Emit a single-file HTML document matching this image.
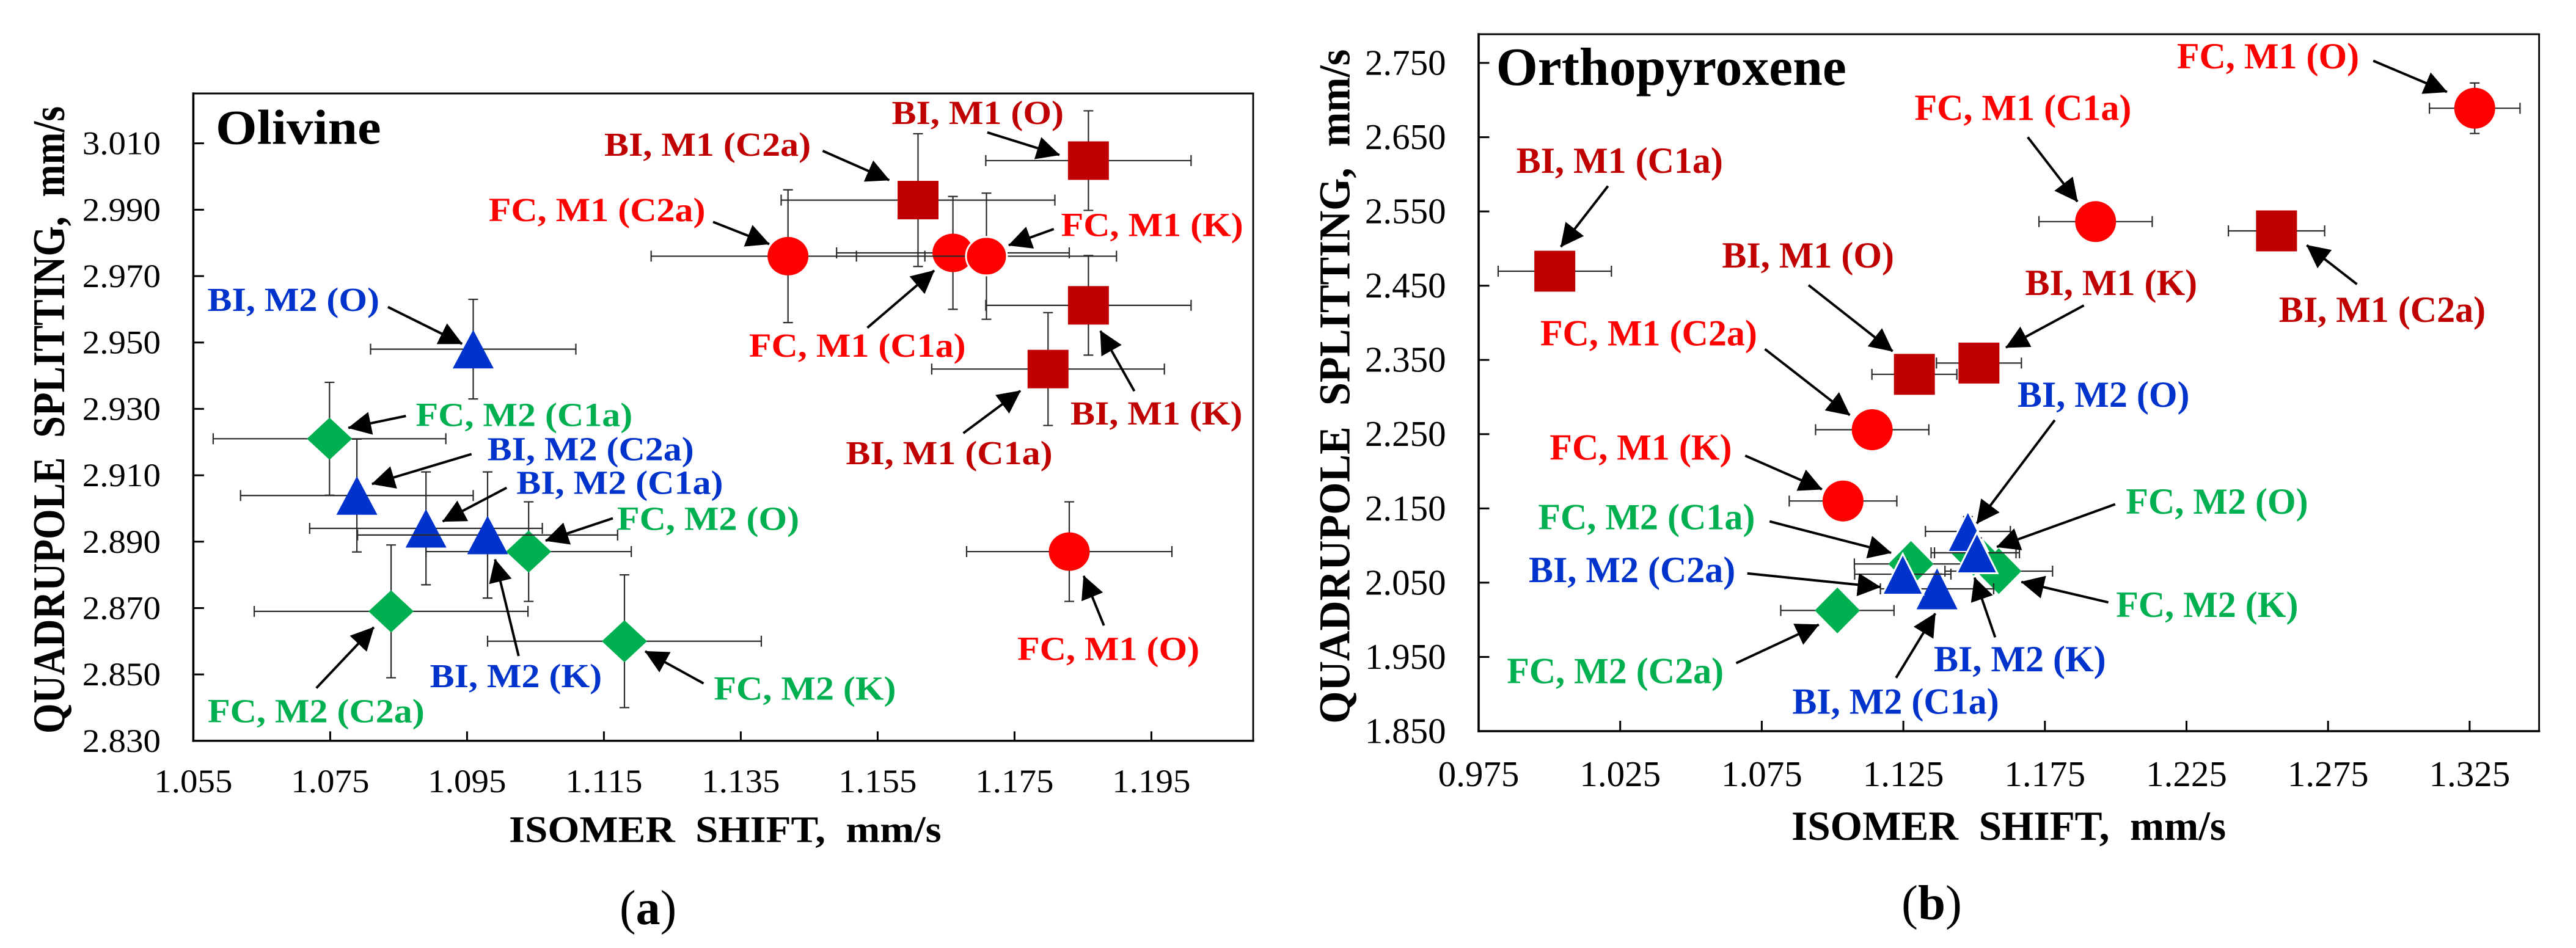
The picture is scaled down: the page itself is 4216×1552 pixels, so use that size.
<!DOCTYPE html>
<html lang="en">
<head>
<meta charset="utf-8">
<title>Isomer shift versus quadrupole splitting: olivine and orthopyroxene</title>
<style>
html,body{margin:0;padding:0;background:#fff;}
svg{display:block;}
text{font-family:"Liberation Serif","Times New Roman",serif;}
.lbl{font-weight:bold;font-size:60px;}
.r{fill:#FF0000;}.d{fill:#C00000;}.b{fill:#0033CC;}.g{fill:#00B050;}
.arrow line{stroke:#000;stroke-width:4;marker-end:url(#arrowhead);}
.ttl{font-weight:bold;fill:#000;}
</style>
</head>
<body>
<svg xmlns="http://www.w3.org/2000/svg" width="4216" height="1552" viewBox="0 0 4216 1552">
<defs>
<marker id="arrowhead" markerUnits="userSpaceOnUse" markerWidth="38" markerHeight="38" refX="37" refY="19" orient="auto">
<path d="M0 0L38 19L0 38Z" fill="#000"/>
</marker>
</defs>
<rect x="0" y="0" width="4216" height="1552" fill="#fff"/>

<g id="olivine-plot"></g>
<g id="ortho-plot"></g>

<!-- Panel (a) text -->
<g>
<text class="ttl" font-size="87" transform="translate(353 235.7) scale(1 .92)">Olivine</text>
<text class="ttl" font-size="74" transform="translate(105 1201) rotate(-90) scale(.86 1)">QUADRUPOLE&#160;&#160;SPLITTING,&#160;&#160;mm/s</text>
<text class="ttl" font-size="67" transform="translate(833 1378.6) scale(1 .92)">ISOMER&#160;&#160;SHIFT,&#160;&#160;mm/s</text>
<text font-size="80" transform="translate(1014 1512.8)">(<tspan font-weight="bold">a</tspan>)</text>
<text class="lbl b" transform="translate(339.5 509) scale(1 .92)">BI, M2 (O)</text>
<text class="lbl g" transform="translate(680.5 697.4) scale(1 .92)">FC, M2 (C1a)</text>
<text class="lbl b" transform="translate(797.6 753.6) scale(1 .92)">BI, M2 (C2a)</text>
<text class="lbl b" transform="translate(845.3 808.7) scale(1 .92)">BI, M2 (C1a)</text>
<text class="lbl g" transform="translate(1010 867.3) scale(1 .92)">FC, M2 (O)</text>
<text class="lbl b" transform="translate(703.6 1125) scale(1 .92)">BI, M2 (K)</text>
<text class="lbl g" transform="translate(340 1182.7) scale(1 .92)">FC, M2 (C2a)</text>
<text class="lbl g" transform="translate(1168.4 1145.4) scale(1 .92)">FC, M2 (K)</text>
<text class="lbl r" transform="translate(1665 1080.6) scale(1 .92)">FC, M1 (O)</text>
<text class="lbl d" transform="translate(1459.5 203) scale(1 .92)">BI, M1 (O)</text>
<text class="lbl d" transform="translate(989 255) scale(1 .92)">BI, M1 (C2a)</text>
<text class="lbl r" transform="translate(799.7 362) scale(1 .92)">FC, M1 (C2a)</text>
<text class="lbl r" transform="translate(1736.6 386.7) scale(1 .92)">FC, M1 (K)</text>
<text class="lbl r" transform="translate(1225.9 584) scale(1 .92)">FC, M1 (C1a)</text>
<text class="lbl d" transform="translate(1752 695) scale(1 .92)">BI, M1 (K)</text>
<text class="lbl d" transform="translate(1384.4 760) scale(1 .92)">BI, M1 (C1a)</text>
</g>

<!-- Panel (a) callout arrows -->
<g class="arrow">
<line x1="634.9" y1="502.6" x2="756.2" y2="562.8"/>
<line x1="664.3" y1="681" x2="570.3" y2="700.5"/>
<line x1="771.7" y1="743.4" x2="608.9" y2="792.3"/>
<line x1="829.2" y1="798.5" x2="724.6" y2="853.6"/>
<line x1="1003" y1="848.5" x2="893" y2="885.2"/>
<line x1="848.8" y1="1074" x2="810.2" y2="915.8"/>
<line x1="517.7" y1="1126.5" x2="611.7" y2="1027"/>
<line x1="1151.5" y1="1118.9" x2="1056" y2="1066.3"/>
<line x1="1806.7" y1="1024" x2="1773.7" y2="942.9"/>
<line x1="1615.9" y1="216.8" x2="1733.8" y2="253.6"/>
<line x1="1346.5" y1="247" x2="1455.3" y2="294.9"/>
<line x1="1167" y1="363.3" x2="1258.9" y2="399.5"/>
<line x1="1724.7" y1="375" x2="1651" y2="401.5"/>
<line x1="1419.5" y1="536.7" x2="1529" y2="442.9"/>
<line x1="1856.5" y1="640.3" x2="1801" y2="541.8"/>
<line x1="1576.6" y1="709.2" x2="1670" y2="639.8"/>
</g>

<!-- Panel (b) text -->
<g>
<text class="ttl" font-size="87.7" x="2448.6" y="138.8">Orthopyroxene</text>
<text class="ttl" font-size="72" transform="translate(2208.7 1184.7) rotate(-90) scale(.95 1)">QUADRUPOLE&#160;&#160;SPLITTING,&#160;&#160;mm/s</text>
<text class="ttl" font-size="67.3" x="2932" y="1375">ISOMER&#160;&#160;SHIFT,&#160;&#160;mm/s</text>
<text font-size="81" x="3112" y="1505">(<tspan font-weight="bold">b</tspan>)</text>
<text class="lbl r" x="3562.9" y="112">FC, M1 (O)</text>
<text class="lbl r" x="3133.5" y="196.4">FC, M1 (C1a)</text>
<text class="lbl d" x="2481.6" y="283">BI, M1 (C1a)</text>
<text class="lbl d" x="2818.4" y="437.8">BI, M1 (O)</text>
<text class="lbl d" x="3314.5" y="483">BI, M1 (K)</text>
<text class="lbl d" x="3729.8" y="527">BI, M1 (C2a)</text>
<text class="lbl r" x="2520.9" y="565.3">FC, M1 (C2a)</text>
<text class="lbl r" x="2536.3" y="752.6">FC, M1 (K)</text>
<text class="lbl b" x="3301.9" y="665.8">BI, M2 (O)</text>
<text class="lbl g" x="3479.4" y="840.8">FC, M2 (O)</text>
<text class="lbl g" x="2517.4" y="866.3">FC, M2 (C1a)</text>
<text class="lbl b" x="2502" y="953">BI, M2 (C2a)</text>
<text class="lbl g" x="3463.2" y="1010.2">FC, M2 (K)</text>
<text class="lbl b" x="3165" y="1099">BI, M2 (K)</text>
<text class="lbl g" x="2466.2" y="1118.4">FC, M2 (C2a)</text>
<text class="lbl b" x="2933.4" y="1168.4">BI, M2 (C1a)</text>
</g>

<!-- Panel (b) callout arrows -->
<g class="arrow">
<line x1="2631.7" y1="304.6" x2="2554.6" y2="404"/>
<line x1="2960" y1="466.8" x2="3097.5" y2="575"/>
<line x1="2888.5" y1="571.4" x2="3027.4" y2="679.6"/>
<line x1="2856.2" y1="745.9" x2="2981.8" y2="801"/>
<line x1="3884.2" y1="99.5" x2="4004.8" y2="150.5"/>
<line x1="3318.7" y1="224.5" x2="3400" y2="330"/>
<line x1="3857.5" y1="465.3" x2="3775.4" y2="401.5"/>
<line x1="3410.6" y1="500" x2="3283" y2="568.9"/>
<line x1="3362.9" y1="687.8" x2="3235.3" y2="857"/>
<line x1="3461.8" y1="825.5" x2="3268.2" y2="895.4"/>
<line x1="2896.2" y1="853.6" x2="3095" y2="905"/>
<line x1="2859.7" y1="938.8" x2="3077.3" y2="961"/>
<line x1="2841.5" y1="1085.7" x2="2976.7" y2="1022.7"/>
<line x1="3103.2" y1="1109.7" x2="3167.3" y2="1004.3"/>
<line x1="3265.4" y1="1043.4" x2="3231.7" y2="945.7"/>
<line x1="3450.6" y1="986.2" x2="3308.3" y2="952.7"/>
</g>
</svg>

<script>
// Olivine data
const olivineXTicks = ['1.055','1.075','1.095','1.115','1.135','1.155','1.175','1.195'];
const olivineYTicks = ['2.830','2.850','2.870','2.890','2.910','2.930','2.950','2.970','2.990','3.010'];
const olivineNames = ['BI, M1 (O)','BI, M1 (C2a)','BI, M1 (K)','BI, M1 (C1a)','FC, M1 (C2a)','FC, M1 (C1a)','FC, M1 (K)','FC, M1 (O)','FC, M2 (C1a)','FC, M2 (O)','FC, M2 (C2a)','FC, M2 (K)','BI, M2 (O)','BI, M2 (C2a)','BI, M2 (C1a)','BI, M2 (K)'];
const olivineShift = [1.1858,1.1609,1.1858,1.1799,1.1419,1.166,1.1709,1.183,1.0749,1.104,1.0839,1.118,1.0959,1.0789,1.089,1.098];
const olivineSplitting = [3.0048,2.9929,2.9612,2.942,2.976,2.977,2.976,2.887,2.921,2.887,2.869,2.86,2.948,2.9039,2.894,2.892];
const olivineShiftErr = [0.015,0.02,0.015,0.017,0.02,0.017,0.019,0.015,0.017,0.015,0.02,0.02,0.015,0.017,0.017,0.019];
const olivineSplittingErr = [0.015,0.02,0.015,0.017,0.02,0.017,0.019,0.015,0.017,0.015,0.02,0.02,0.015,0.017,0.017,0.019];

// Orthopyroxene data
const orthoXTicks = ['0.975','1.025','1.075','1.125','1.175','1.225','1.275','1.325'];
const orthoYTicks = ['1.850','1.950','2.050','2.150','2.250','2.350','2.450','2.550','2.650','2.750'];
const orthoNames = ['BI, M1 (C1a)','BI, M1 (O)','BI, M1 (K)','BI, M1 (C2a)','FC, M1 (O)','FC, M1 (C1a)','FC, M1 (C2a)','FC, M1 (K)','FC, M2 (C2a)','FC, M2 (C1a)','FC, M2 (O)','FC, M2 (K)','BI, M2 (C1a)','BI, M2 (O)','BI, M2 (C2a)','BI, M2 (K)'];
const orthoShift = [1.0019,1.1289,1.1517,1.2568,1.3268,1.1929,1.114,1.1037,1.1017,1.1277,1.1498,1.1587,1.1369,1.1478,1.1248,1.151];
const orthoSplitting = [2.4695,2.3306,2.3458,2.5238,2.689,2.5363,2.256,2.16,2.0126,2.0752,2.0902,2.0655,2.0417,2.119,2.0614,2.0902];
const orthoShiftErr = [0.02,0.015,0.015,0.017,0.016,0.02,0.02,0.019,0.02,0.02,0.015,0.019,0.02,0.015,0.017,0.015];
const orthoSplittingErr = [0.02,0.02,0.02,0.02,0.034,0.02,0.02,0.02,0.02,0.02,0.02,0.02,0.02,0.02,0.02,0.02];

const SVG_NS = 'http://www.w3.org/2000/svg';

function make(tag, attrs, parent) {
  const el = document.createElementNS(SVG_NS, tag);
  for (const k in attrs) el.setAttribute(k, attrs[k]);
  parent.appendChild(el);
  return el;
}

function slugOf(name) {
  return name.toLowerCase().replace(/[^a-z0-9]+/g, '-').replace(/^-|-$/g, '');
}

function colorOf(name) {
  if (name.indexOf('BI, M1') === 0) return '#C00000';
  if (name.indexOf('FC, M1') === 0) return '#FF0000';
  if (name.indexOf('BI, M2') === 0) return '#0033CC';
  return '#00B050';
}

function drawPanel(root, cfg) {
  const xScale = function (v) { return cfg.left + (v - cfg.xMin) * cfg.xPerUnit; };
  const yScale = function (v) { return cfg.bottom - (v - cfg.yMin) * cfg.yPerUnit; };

  // frame
  const frame = make('g', { stroke: '#000', 'stroke-linecap': 'square' }, root);
  
  
  make('line', { x1: cfg.left, y1: cfg.top, x2: cfg.left, y2: cfg.bottom, 'stroke-width': 3.6 }, frame);
  make('line', { x1: cfg.left, y1: cfg.bottom, x2: cfg.right, y2: cfg.bottom, 'stroke-width': 3.4 }, frame);
  make('line', { x1: cfg.left, y1: cfg.top, x2: cfg.right, y2: cfg.top, 'stroke-width': 3 }, frame);
  make('line', { x1: cfg.right, y1: cfg.top, x2: cfg.right, y2: cfg.bottom, 'stroke-width': 2.8 }, frame);

  // x axis
  cfg.xTicks.forEach(function (label) {
    const v = parseFloat(label);
    const px = xScale(v);
    if (v !== cfg.xMin) {
      const tick = make('line', { x1: px, y1: cfg.bottom, x2: px, y2: cfg.bottom - cfg.xTickLen, stroke: '#000', 'stroke-width': 3 }, root);
      
      
    }
    const txt = make('text', { 'text-anchor': 'middle', 'font-size': cfg.tickFont, fill: '#000', transform: 'translate(' + px + ' ' + cfg.xLabelY + ') scale(1 ' + cfg.squash + ')' }, root);
    txt.textContent = label;
    
    
  });

  // y axis
  cfg.yTicks.forEach(function (label) {
    const v = parseFloat(label);
    const py = yScale(v);
    if (v !== cfg.yMin) {
      const tick = make('line', { x1: cfg.left, y1: py, x2: cfg.left + 17.5, y2: py, stroke: '#000', 'stroke-width': 3 }, root);
      
      
    }
    const txt = make('text', { 'text-anchor': 'end', 'font-size': cfg.tickFont, fill: '#000', transform: 'translate(' + cfg.yLabelX + ' ' + (py + cfg.yLabelDrop) + ') scale(1 ' + cfg.squash + ')' }, root);
    txt.textContent = label;
    
    
  });

  // points
  cfg.names.forEach(function (name, i) {
    const slug = slugOf(name);
    const group = make('g', {}, root);
    
    

    const cx = xScale(cfg.xs[i]);
    const cy = yScale(cfg.ys[i]);
    const x0 = xScale(cfg.xs[i] - cfg.xErr[i]);
    const x1 = xScale(cfg.xs[i] + cfg.xErr[i]);
    const y0 = yScale(cfg.ys[i] + cfg.yErr[i]);
    const y1 = yScale(cfg.ys[i] - cfg.yErr[i]);

    const bars = make('path', {
      d: 'M' + x0 + ' ' + cy + 'H' + x1 +
         'M' + x0 + ' ' + (cy - 9) + 'V' + (cy + 9) +
         'M' + x1 + ' ' + (cy - 9) + 'V' + (cy + 9) +
         'M' + cx + ' ' + y0 + 'V' + y1 +
         'M' + (cx - 8) + ' ' + y0 + 'H' + (cx + 8) +
         'M' + (cx - 8) + ' ' + y1 + 'H' + (cx + 8),
      fill: 'none', stroke: '#2a2a2a', 'stroke-width': 2.2
    }, group);
    
    

    const color = colorOf(name);
    const w = cfg.markerW, h = cfg.markerH;
    let marker;
    if (name.indexOf('BI, M1') === 0) {
      marker = make('rect', { x: cx - w / 2, y: cy - h / 2, width: w, height: h, fill: color }, group);
    } else if (name.indexOf('FC, M1') === 0) {
      marker = make('ellipse', { cx: cx, cy: cy, rx: w / 2, ry: h / 2, fill: color }, group);
    } else if (name.indexOf('BI, M2') === 0) {
      marker = make('polygon', { points: cx + ',' + (cy - h / 2) + ' ' + (cx + w / 2) + ',' + (cy + h / 2) + ' ' + (cx - w / 2) + ',' + (cy + h / 2), fill: color }, group);
    } else {
      const dw = cfg.diamondW / 2, dh = cfg.diamondH / 2;
      marker = make('polygon', { points: cx + ',' + (cy - dh) + ' ' + (cx + dw) + ',' + cy + ' ' + cx + ',' + (cy + dh) + ' ' + (cx - dw) + ',' + cy, fill: color }, group);
    }
    if (cfg.outlined.indexOf(name) !== -1) {
      marker.setAttribute('stroke', '#fff');
      marker.setAttribute('stroke-width', '3');
    }
    
    
  });
}

drawPanel(document.getElementById('olivine-plot'), {
  id: 'olivine',
  left: 316.4, right: 2051, top: 153, bottom: 1212.8,
  xMin: 1.055, xPerUnit: 11200, yMin: 2.83, yPerUnit: 5434,
  xTickLen: 15.5, tickFont: 57, squash: 0.94,
  xLabelY: 1297, yLabelX: 263, yLabelDrop: 18,
  markerW: 67, markerH: 63, diamondW: 74, diamondH: 69,
  xTicks: olivineXTicks, yTicks: olivineYTicks,
  names: olivineNames, xs: olivineShift, ys: olivineSplitting,
  xErr: olivineShiftErr, yErr: olivineSplittingErr,
  outlined: ['FC, M1 (K)']
});

drawPanel(document.getElementById('ortho-plot'), {
  id: 'orthopyroxene',
  left: 2420, right: 4155.6, top: 56, bottom: 1197,
  xMin: 0.975, xPerUnit: 4634, yMin: 1.85, yPerUnit: 1215.5,
  xTickLen: 17, tickFont: 59, squash: 1,
  xLabelY: 1287, yLabelX: 2366.6, yLabelDrop: 19.4,
  markerW: 67, markerH: 67, diamondW: 74, diamondH: 75,
  xTicks: orthoXTicks, yTicks: orthoYTicks,
  names: orthoNames, xs: orthoShift, ys: orthoSplitting,
  xErr: orthoShiftErr, yErr: orthoSplittingErr,
  outlined: ['BI, M2 (O)', 'BI, M2 (C2a)', 'BI, M2 (K)']
});
</script>
</body>
</html>
